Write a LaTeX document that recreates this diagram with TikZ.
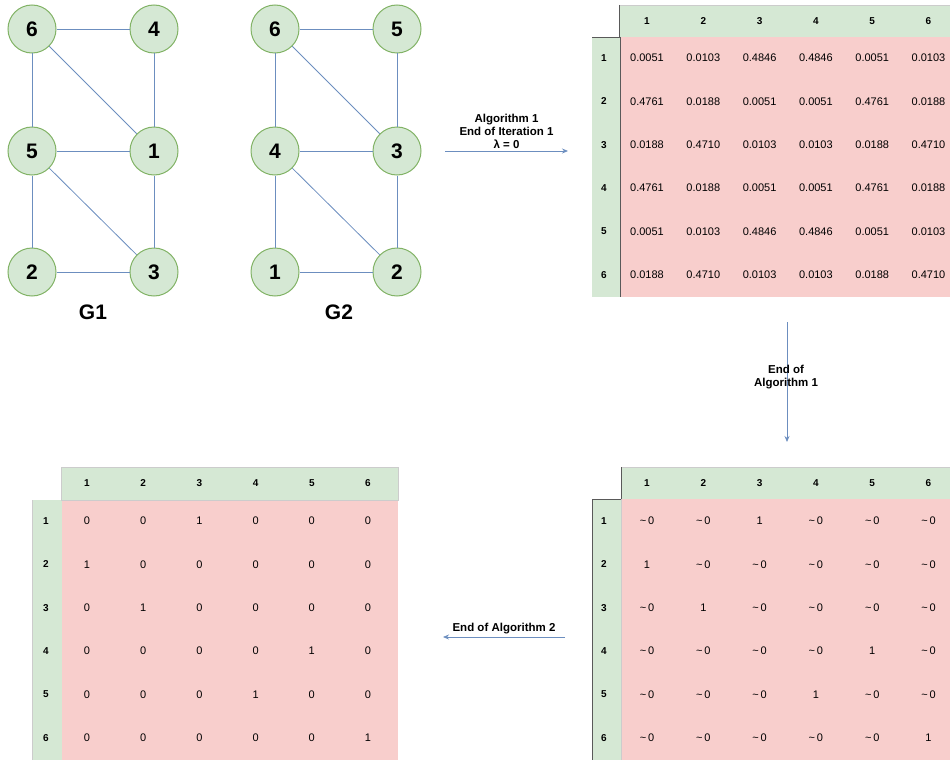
\documentclass[tikz,border=0pt]{standalone}
\usepackage{fontspec}
\setmainfont{Liberation Sans}
\usetikzlibrary{arrows.meta}
\definecolor{vfill}{HTML}{D5E8D4}
\definecolor{vline}{HTML}{82B366}
\definecolor{cellred}{HTML}{F8CECC}
\definecolor{edgeblue}{HTML}{6C8EBF}
\newcommand{\nz}{\textasciitilde\,0}
\tikzset{
  vertex/.style={circle,draw=vline,fill=vfill,line width=1pt,minimum size=48pt,inner sep=0pt,font=\fontsize{21}{24}\selectfont\bfseries},
  edge/.style={draw=edgeblue,line width=0.8pt},
  cell/.style={font=\fontsize{11}{13}\selectfont,inner sep=0pt},
  headcell/.style={font=\fontsize{10}{12}\selectfont\bfseries,inner sep=0pt},
  steplabel/.style={font=\fontsize{11.5}{13}\selectfont\bfseries,align=center,inner sep=1pt},
  flow/.style={->,draw=edgeblue,line width=0.8pt},
  gridline/.style={draw=black!20,line width=0.5pt},
  darkline/.style={draw=black!65,line width=0.7pt}
}
\begin{document}
\begin{tikzpicture}[x=1pt,y=-1pt,>={Stealth[length=6pt,width=5pt]}]
\useasboundingbox (0,0) rectangle (950,760);

% Graph G1
\foreach \n/\x/\y in {6/32/29,4/154/29,5/32/151,1/154/151,2/32/272,3/154/272}
  \node[vertex] (a\n) at (\x,\y) {\n};
\foreach \u/\v in {6/4,6/5,6/1,4/1,5/1,5/2,5/3,1/3,2/3}
  \draw[edge] (a\u)--(a\v);
\node[font=\fontsize{21}{24}\selectfont\bfseries] (g1) at (93,312) {G1};

% Graph G2
\foreach \n/\x/\y in {6/275/29,5/397/29,4/275/151,3/397/151,1/275/272,2/397/272}
  \node[vertex] (b\n) at (\x,\y) {\n};
\foreach \u/\v in {6/5,6/4,6/3,5/3,4/3,4/1,4/2,3/2,1/2}
  \draw[edge] (b\u)--(b\v);
\node[font=\fontsize{21}{24}\selectfont\bfseries] (g2) at (339,312) {G2};

% Matrix after iteration 1
\fill[vfill] (619,5) rectangle (950,37);
\fill[vfill] (592,37) rectangle (620,297);
\fill[cellred] (620,37) rectangle (950,297);
\draw[gridline] (619,5)--(950,5);
\draw[darkline] (619,5)--(619,37)--(592,37);
\draw[darkline] (620,37)--(620,297);
\foreach \c in {1,...,6}
  \node[headcell] (p-h\c) at ({647+56.3*(\c-1)},21) {\c};
\foreach \r in {1,...,6}
  \node[headcell] (p-r\r) at (604,{58+43.4*(\r-1)}) {\r};
\foreach \row [count=\r] in {
  {0.0051,0.0103,0.4846,0.4846,0.0051,0.0103},
  {0.4761,0.0188,0.0051,0.0051,0.4761,0.0188},
  {0.0188,0.4710,0.0103,0.0103,0.0188,0.4710},
  {0.4761,0.0188,0.0051,0.0051,0.4761,0.0188},
  {0.0051,0.0103,0.4846,0.4846,0.0051,0.0103},
  {0.0188,0.4710,0.0103,0.0103,0.0188,0.4710}}
  \foreach \v [count=\c] in \row
    \node[cell] (p-\r-\c) at ({647+56.3*(\c-1)},{58+43.4*(\r-1)}) {\v};

% Matrix at end of algorithm 1
\fill[vfill] (621,467) rectangle (950,499);
\fill[vfill] (592,499) rectangle (621,760);
\fill[cellred] (621,499) rectangle (950,760);
\draw[gridline] (621,467)--(950,467);
\draw[darkline] (621,467)--(621,499)--(592,499)--(592,760);
\draw[gridline] (621,499)--(621,760);
\foreach \c in {1,...,6}
  \node[headcell] (q-h\c) at ({647+56.3*(\c-1)},483) {\c};
\foreach \r in {1,...,6}
  \node[headcell] (q-r\r) at (604,{521+43.4*(\r-1)}) {\r};
\foreach \row [count=\r] in {
  {\nz,\nz,1,\nz,\nz,\nz},
  {1,\nz,\nz,\nz,\nz,\nz},
  {\nz,1,\nz,\nz,\nz,\nz},
  {\nz,\nz,\nz,\nz,1,\nz},
  {\nz,\nz,\nz,1,\nz,\nz},
  {\nz,\nz,\nz,\nz,\nz,1}}
  \foreach \v [count=\c] in \row
    \node[cell] (q-\r-\c) at ({647+56.3*(\c-1)},{521+43.4*(\r-1)}) {\v};

% Matrix at end of algorithm 2
\fill[vfill] (61,467) rectangle (398,500);
\fill[vfill] (32,500) rectangle (62,760);
\fill[cellred] (62,500) rectangle (398,760);
\draw[gridline] (61,500)--(61,467)--(398,467)--(398,500)--(61,500);
\draw[gridline] (32,500)--(32,760);
\foreach \c in {1,...,6}
  \node[headcell] (m-h\c) at ({87+56.2*(\c-1)},483) {\c};
\foreach \r in {1,...,6}
  \node[headcell] (m-r\r) at (46,{521+43.4*(\r-1)}) {\r};
\foreach \row [count=\r] in {
  {0,0,1,0,0,0},
  {1,0,0,0,0,0},
  {0,1,0,0,0,0},
  {0,0,0,0,1,0},
  {0,0,0,1,0,0},
  {0,0,0,0,0,1}}
  \foreach \v [count=\c] in \row
    \node[cell] (m-\r-\c) at ({87+56.2*(\c-1)},{521+43.4*(\r-1)}) {\v};

% Arrows
\coordinate (s1) at (445,151);
\coordinate (e1) at (568,151);
\coordinate (s2) at (787,322);
\coordinate (e2) at (787,442);
\coordinate (s3) at (565,637);
\coordinate (e3) at (443,637);
\draw[flow] (s1) -- node[steplabel,above=1pt] (lab1) {Algorithm 1\\End of Iteration 1\\λ = 0} (e1);
\draw[flow] (s2) -- (e2);
\node[steplabel] (lab2) at (786,377) {End of\\Algorithm 1};
\draw[flow] (s3) -- node[steplabel,above=2pt] (lab3) {End of Algorithm 2} (e3);
\end{tikzpicture}
\end{document}
